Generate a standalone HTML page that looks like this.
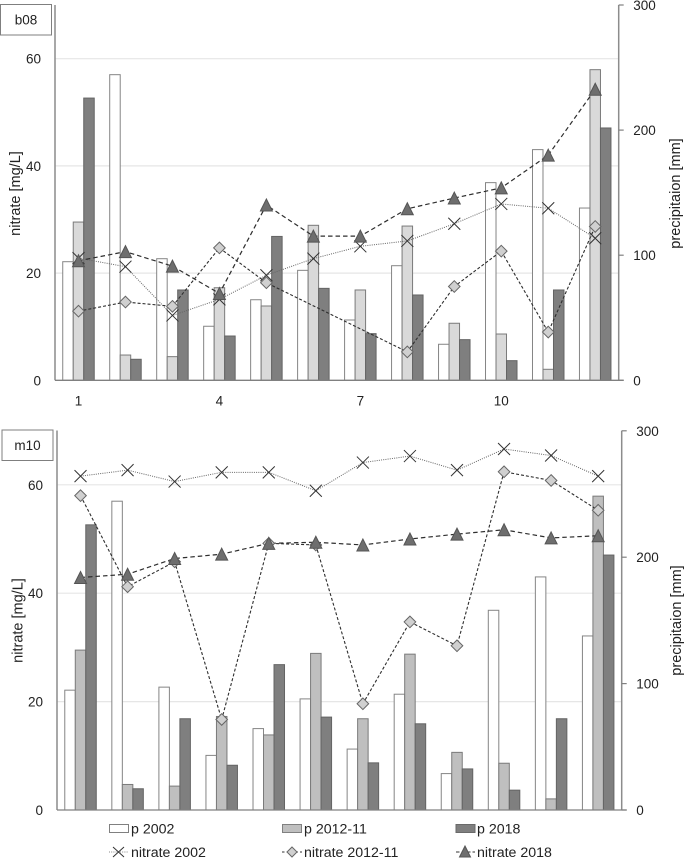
<!DOCTYPE html>
<html lang="en">
<head>
<meta charset="utf-8">
<title>Nitrate and precipitation, b08 and m10</title>
<style>
html,body{margin:0;padding:0;background:#fff;width:685px;height:858px;overflow:hidden}
svg{display:block;font-family:"Liberation Sans",sans-serif;fill:#222;filter:blur(.25px)}
text{font-size:13.5px}
#legend text{font-size:14.2px}
text.axis-title{font-size:14.5px}
</style>
</head>
<body>
<svg id="figure" width="685" height="858" viewBox="0 0 685 858" xmlns="http://www.w3.org/2000/svg">
  <g id="chart-b08"></g>
  <g id="chart-m10"></g>
  <g id="legend">
    <g>
      <rect x="109.5" y="824.5" width="19" height="8" fill="#fff" stroke="#808080"/>
      <text x="131" y="833.5">p 2002</text>
    </g>
    <g>
      <rect x="282.5" y="824.5" width="19" height="8" fill="#bfbfbf" stroke="#808080"/>
      <text x="304" y="833.5">p 2012-11</text>
    </g>
    <g>
      <rect x="456" y="824.5" width="19" height="8" fill="#7f7f7f" stroke="#6a6a6a"/>
      <text x="477" y="833.5">p 2018</text>
    </g>
    <g>
      <line x1="109" y1="852" x2="128" y2="852" stroke="#888" stroke-dasharray="1 1.2"/>
      <path d="M113 847L124 857M113 857L124 847" stroke="#333" fill="none"/>
      <text x="131" y="857">nitrate 2002</text>
    </g>
    <g>
      <line x1="282" y1="852" x2="302" y2="852" stroke="#333" stroke-dasharray="2.5 2"/>
      <path d="M292 847L297 852L292 857L287 852Z" fill="#d0d0d0" stroke="#666"/>
      <text x="304" y="857">nitrate 2012-11</text>
    </g>
    <g>
      <line x1="456" y1="852" x2="475" y2="852" stroke="#333" stroke-dasharray="3.5 2"/>
      <path d="M465 846L470.5 857H459.5Z" fill="#6e6e6e" stroke="#555"/>
      <text x="477" y="857">nitrate 2018</text>
    </g>
  </g>
</svg>
<script>
var months = [1,2,3,4,5,6,7,8,9,10,11,12];
var monthTickLabels = [1,4,7,10];
var nitrateTicks = [0,20,40,60];
var precipTicks = [0,100,200,300];

var precip2002 = [94.8,244.3,97.2,43.2,64.4,87.9,48.2,91.6,28.8,158,184.4,137.7];
var precip2012 = [126.5,20.2,18.9,74,59.4,123.9,72.2,123.3,45.6,37,8.8,248.3];
var precip2018 = [225.6,16.8,72.2,35.4,115,73.5,37.3,68.2,32.5,15.7,72.2,201.7];

var b08Nitrate2002 = [22.8,21.2,12.1,15.1,19.6,22.7,25,26,29.2,32.9,32.1,26.5];
var b08Nitrate2012 = [12.9,14.6,13.8,24.7,18.2,null,null,5.3,17.5,24.1,9,28.7];
var b08Nitrate2018 = [22.3,24,21.3,16.2,32.7,26.9,26.9,32,34,35.9,42,54.3];

var m10Nitrate2002 = [61.6,62.7,60.6,62.3,62.3,58.9,64.1,65.3,62.7,66.6,65.4,61.6];
var m10Nitrate2012 = [58,41.2,45.8,16.7,49.2,48.9,19.6,34.7,30.3,62.4,60.8,55.3];
var m10Nitrate2018 = [42.9,43.5,46.4,47.2,49.2,49.4,48.9,50,50.9,51.7,50.2,50.6];

var NS = 'http://www.w3.org/2000/svg';

function make(parent, tag, attrs, content) {
  var el = document.createElementNS(NS, tag);
  for (var k in attrs) { el.setAttribute(k, attrs[k]); }
  if (content !== undefined) { el.textContent = content; }
  parent.appendChild(el);
  return el;
}

function drawChart(cfg) {
  var g = document.getElementById(cfg.id);
  function yN(v) { return cfg.y0 - v * cfg.nScale; }
  function yP(v) { return cfg.y0 - v * cfg.pScale; }
  var step = (cfg.xR - cfg.xL) / months.length;
  function xC(m) { return cfg.xL + step * (m - 0.5); }

  nitrateTicks.forEach(function (t) {
    if (t > 0) {
      var gl = make(g, 'line', {x1: cfg.xL, x2: cfg.xR, y1: yN(t), y2: yN(t), stroke: '#e6e6e6', 'stroke-width': 1.2});
      
      
    }
    var lab = make(g, 'text', {x: cfg.xL - 14, y: yN(t) + 5, 'text-anchor': 'end'}, t);
    
    
  });

  var barSeries = [
    {name: 'p-2002', vals: precip2002, off: -1, fill: '#ffffff', stroke: '#858585'},
    {name: 'p-2012-11', vals: precip2012, off: 0, fill: cfg.midFill, stroke: '#7a7a7a'},
    {name: 'p-2018', vals: precip2018, off: 1, fill: '#7f7f7f', stroke: '#646464'}
  ];
  var bw = 10.5;
  barSeries.forEach(function (s) {
    s.vals.forEach(function (v, i) {
      var cx = xC(months[i]) + s.off * bw;
      var b = make(g, 'rect', {x: cx - bw / 2, y: yP(v), width: bw, height: yP(0) - yP(v), fill: s.fill, stroke: s.stroke, 'stroke-width': 1});
      
      
    });
  });

  var axL = make(g, 'line', {x1: cfg.xL, x2: cfg.xL, y1: cfg.yTop, y2: cfg.y0, stroke: '#8c8c8c', 'stroke-width': 1.5});
  
  
  var axR = make(g, 'line', {x1: cfg.xR, x2: cfg.xR, y1: yP(300), y2: cfg.y0, stroke: '#8c8c8c', 'stroke-width': 1.5});
  
  
  var axB = make(g, 'line', {x1: cfg.xL, x2: cfg.xR + 5, y1: cfg.y0, y2: cfg.y0, stroke: '#808080', 'stroke-width': 1.3});
  
  

  precipTicks.forEach(function (t) {
    var tk = make(g, 'line', {x1: cfg.xR, x2: cfg.xR + 5, y1: yP(t), y2: yP(t), stroke: '#808080', 'stroke-width': 1.2});
    
    
    var lab = make(g, 'text', {x: cfg.xR + 14.5, y: yP(t) + 5}, t);
    
    
  });

  if (cfg.showMonths) {
    monthTickLabels.forEach(function (m) {
      var lab = make(g, 'text', {x: xC(m), y: cfg.y0 + 25, 'text-anchor': 'middle'}, m);
      
      
    });
  }

  function linePts(vals) {
    var pts = [];
    vals.forEach(function (v, i) {
      if (v !== null) { pts.push(xC(months[i]) + ',' + yN(v)); }
    });
    return pts.join(' ');
  }

  var l02 = make(g, 'polyline', {points: linePts(cfg.n2002), fill: 'none', stroke: '#666', 'stroke-width': 1, 'stroke-dasharray': '1 1.2'});
  
  
  var l12 = make(g, 'polyline', {points: linePts(cfg.n2012), fill: 'none', stroke: '#2e2e2e', 'stroke-width': 1.1, 'stroke-dasharray': '3 2'});
  
  
  var l18 = make(g, 'polyline', {points: linePts(cfg.n2018), fill: 'none', stroke: '#2e2e2e', 'stroke-width': 1.2, 'stroke-dasharray': '4.5 3'});
  
  

  cfg.n2002.forEach(function (v, i) {
    if (v === null) { return; }
    var x = xC(months[i]), y = yN(v), r = 6;
    var mk = make(g, 'path', {d: 'M' + (x - r) + ' ' + (y - r) + 'L' + (x + r) + ' ' + (y + r) + 'M' + (x - r) + ' ' + (y + r) + 'L' + (x + r) + ' ' + (y - r), fill: 'none', stroke: '#333', 'stroke-width': 1});
    
    
  });
  cfg.n2012.forEach(function (v, i) {
    if (v === null) { return; }
    var x = xC(months[i]), y = yN(v), r = 5.8;
    var mk = make(g, 'path', {d: 'M' + x + ' ' + (y - r) + 'L' + (x + r) + ' ' + y + 'L' + x + ' ' + (y + r) + 'L' + (x - r) + ' ' + y + 'Z', fill: '#d0d0d0', stroke: '#666', 'stroke-width': 1});
    
    
  });
  cfg.n2018.forEach(function (v, i) {
    if (v === null) { return; }
    var x = xC(months[i]), y = yN(v), r = 6;
    var mk = make(g, 'path', {d: 'M' + x + ' ' + (y - r) + 'L' + (x + r) + ' ' + (y + r) + 'L' + (x - r) + ' ' + (y + r) + 'Z', fill: '#6e6e6e', stroke: '#555', 'stroke-width': 1});
    
    
  });

  var box = make(g, 'rect', {x: cfg.boxX, y: cfg.boxY, width: 51, height: 30.5, fill: '#fff', stroke: '#7f7f7f', 'stroke-width': 1});
  
  
  var boxT = make(g, 'text', {x: cfg.boxX + 25.5, y: cfg.boxY + 20, 'text-anchor': 'middle'}, cfg.label);
  
  

  var yT = make(g, 'text', {'class': 'axis-title', transform: 'translate(' + cfg.yTitleX + ',' + cfg.yTitleY + ') rotate(-90)', 'text-anchor': 'middle'}, 'nitrate [mg/L]');
  
  
  var rT = make(g, 'text', {'class': 'axis-title', transform: 'translate(' + cfg.rTitleX + ',' + cfg.yTitleY + ') rotate(-90)', 'text-anchor': 'middle'}, 'precipitaion [mm]');
  
  
}

drawChart({id: 'chart-b08', label: 'b08', xL: 55, xR: 618.7, y0: 380.3, yTop: 5, nScale: 5.36, pScale: 1.251,
  midFill: '#d9d9d9', n2002: b08Nitrate2002, n2012: b08Nitrate2012, n2018: b08Nitrate2018,
  showMonths: true, boxX: 0.5, boxY: 4.5, yTitleX: 20, yTitleY: 193.5, rTitleX: 680});
drawChart({id: 'chart-m10', label: 'm10', xL: 57, xR: 621.7, y0: 810, yTop: 430.5, nScale: 5.42, pScale: 1.264,
  midFill: '#bfbfbf', n2002: m10Nitrate2002, n2012: m10Nitrate2012, n2018: m10Nitrate2018,
  showMonths: false, boxX: 2, boxY: 430, yTitleX: 22.5, yTitleY: 620.5, rTitleX: 681});
</script>
</body>
</html>
